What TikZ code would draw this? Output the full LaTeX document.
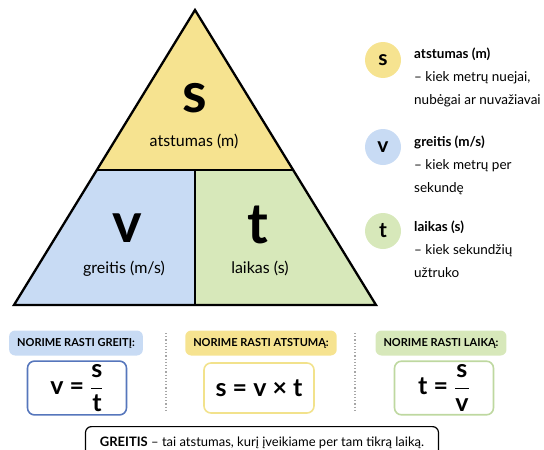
\documentclass[tikz,border=0pt]{standalone}
\usepackage{amsmath}
\usepackage{fontspec}
\setmainfont{Lato}
\usetikzlibrary{calc}

\definecolor{geltona}{RGB}{246,227,144}
\definecolor{melyna}{RGB}{200,219,244}
\definecolor{zalia}{RGB}{215,232,186}
\definecolor{melynrem}{RGB}{86,118,188}
\definecolor{geltrem}{RGB}{242,226,140}
\definecolor{zalrem}{RGB}{190,216,160}

\tikzset{
  krastas/.style={draw=black, line width=2.3pt, line join=miter},
  raide/.style={font=\fontsize{56}{56}\selectfont\bfseries, anchor=base, inner sep=0pt},
  vardas/.style={font=\fontsize{16}{16}\selectfont, anchor=base, inner sep=0pt},
  burbulas/.style={circle, minimum size=36pt, inner sep=0pt, font=\fontsize{21}{21}\selectfont\bfseries},
  aprasas/.style={anchor=north west, align=left, inner sep=0pt, font=\fontsize{13.5}{23}\selectfont},
  antraste/.style={rounded corners=6pt, minimum height=25pt, inner xsep=8pt, font=\fontsize{11}{11}\selectfont\bfseries},
  formule/.style={draw, rounded corners=7pt, line width=1.6pt, minimum width=99pt, minimum height=50pt, font=\fontsize{25}{25}\selectfont\bfseries},
  skirtukas/.style={dotted, line width=1.2pt, gray!70}
}

\begin{document}
\begin{tikzpicture}[x=1pt, y=-1pt]
\useasboundingbox (0,0) rectangle (544,450);

\coordinate (virsus) at (195,10);
\coordinate (kaire) at (14,305);
\coordinate (desine) at (376,305);
\coordinate (kvid) at ($(virsus)!.5424!(kaire)$);
\coordinate (dvid) at ($(virsus)!.5424!(desine)$);
\coordinate (vid) at (195,170);
\coordinate (apac) at (195,305);

\fill[geltona] (virsus) -- (dvid) -- (kvid) -- cycle;
\fill[melyna] (kvid) -- (vid) -- (apac) -- (kaire) -- cycle;
\fill[zalia] (vid) -- (dvid) -- (desine) -- (apac) -- cycle;
\draw[krastas] (virsus) -- (desine) -- (kaire) -- cycle;
\draw[krastas] (kvid) -- (dvid);
\draw[krastas] (vid) -- (apac);

\node (s) [raide] at (195,112) {s};
\node (sv) [vardas] at (194,146) {atstumas (m)};
\node (v) [raide] at (127,242) {v};
\node (vv) [vardas] at (124,273) {greitis (m/s)};
\node (t) [raide] at (258,243) {t};
\node (tv) [vardas] at (260,273) {laikas (s)};

\node (bs) [burbulas, fill=geltona] at (383,60) {s};
\node (bv) [burbulas, fill=melyna] at (383,147) {v};
\node (bt) [burbulas, fill=zalia] at (383,231) {t};
\node (as) [aprasas] at (414,48) {\textbf{atstumas (m)}\\– kiek metrų nuejai,\\nubėgai ar nuvažiavai};
\node (av) [aprasas] at (414,136) {\textbf{greitis (m/s)}\\– kiek metrų per\\sekundę};
\node (at) [aprasas] at (414,221) {\textbf{laikas (s)}\\– kiek sekundžių\\užtruko};

\node (rv) [antraste, fill=melyna] at (76,343) {NORIME RASTI GREITĮ:};
\node (rs) [antraste, fill=geltona] at (261,343) {NORIME RASTI ATSTUMĄ:};
\node (rt) [antraste, fill=zalia] at (441,343) {NORIME RASTI LAIKĄ:};

\node (fv) [formule, draw=melynrem] at (77,388) {v = $\dfrac{\text{s}}{\text{t}}$};
\node (fs) [formule, draw=geltrem, minimum width=110pt] at (259,388) {s = v × t};
\node (ft) [formule, draw=zalrem] at (444,388) {t = $\dfrac{\text{s}}{\text{v}}$};

\draw[skirtukas] (166,333) -- (166,410);
\draw[skirtukas] (355,333) -- (355,410);

\node (apibr) [draw, rounded corners=6pt, line width=1.2pt, anchor=north, minimum width=353pt, inner ysep=0pt, text height=20pt, text depth=20pt, font=\fontsize{13}{13}\selectfont] at (262,426) {\textbf{GREITIS} – tai atstumas, kurį įveikiame per tam tikrą laiką.};
\end{tikzpicture}
\end{document}
